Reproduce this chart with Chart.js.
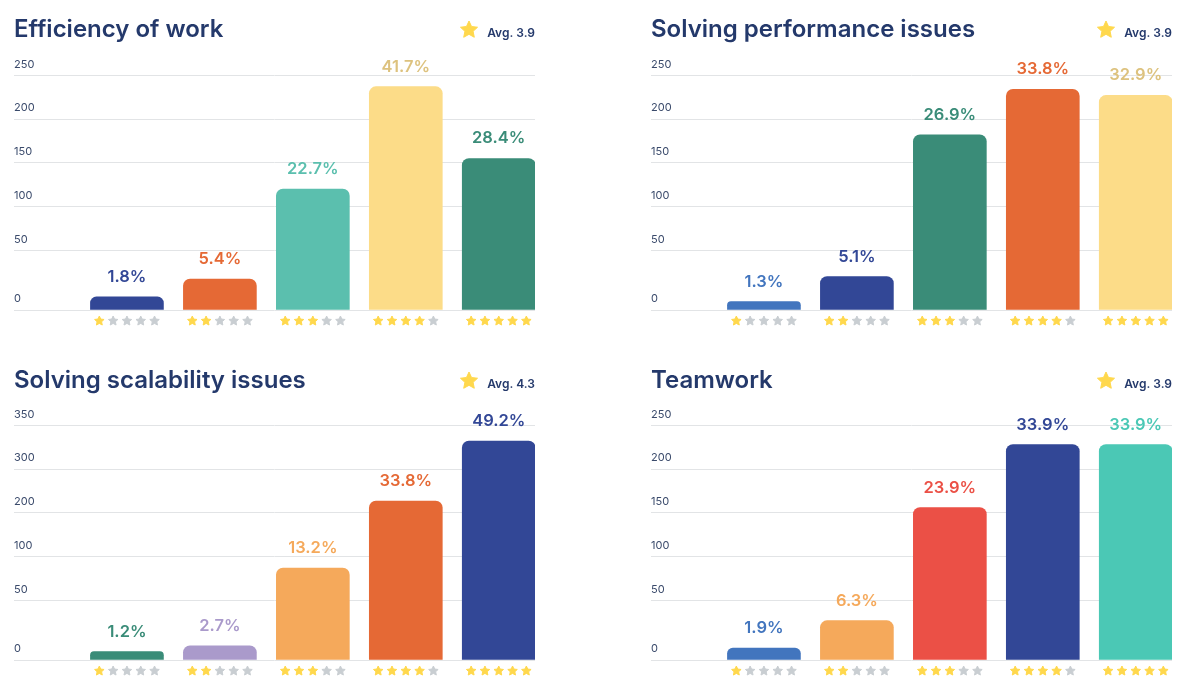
<!DOCTYPE html>
<html>
<head>
<meta charset="utf-8">
<title>Survey ratings</title>
<script src="https://cdn.jsdelivr.net/npm/chart.js@4"></script>
<style>
    html, body { margin: 0; background: #fff; }
    canvas { position: absolute; }
</style>
</head>
<body>
<canvas id="efficiencyChart" style="left:14px;top:0" width="521" height="340"></canvas>
<canvas id="performanceChart" style="left:651px;top:0" width="521" height="340"></canvas>
<canvas id="scalabilityChart" style="left:14px;top:351px" width="521" height="340"></canvas>
<canvas id="teamworkChart" style="left:651px;top:351px" width="521" height="340"></canvas>
<script>
// Star ratings on the x axis
const ratings = [1, 2, 3, 4, 5];

// Efficiency of work
const efficiencyValues = [11, 26, 120, 237, 155];
const efficiencyLabels = ['1.8%', '5.4%', '22.7%', '41.7%', '28.4%'];
const efficiencyTicks = [0, 50, 100, 150, 200, 250];
const efficiencyColors = ['#324796', '#E56935', '#5BBFAE', '#FCDC88', '#3A8C78'];
const efficiencyLabelColors = ['#324796', '#E56935', '#5BBFAE', '#DDC27E', '#3A8C78'];

// Solving performance issues
const performanceValues = [7, 28, 182, 234, 227];
const performanceLabels = ['1.3%', '5.1%', '26.9%', '33.8%', '32.9%'];
const performanceTicks = [0, 50, 100, 150, 200, 250];
const performanceColors = ['#4275BE', '#324796', '#3A8C78', '#E56935', '#FCDC88'];
const performanceLabelColors = ['#4275BE', '#324796', '#3A8C78', '#E56935', '#DDC27E'];

// Solving scalability issues
const scalabilityValues = [7, 12, 87, 227, 332];
const scalabilityLabels = ['1.2%', '2.7%', '13.2%', '33.8%', '49.2%'];
const scalabilityTicks = [0, 50, 100, 200, 300, 350];
const scalabilityColors = ['#3A8C78', '#AA9ACB', '#F5A95B', '#E56935', '#324796'];
const scalabilityLabelColors = ['#3A8C78', '#AA9ACB', '#F5A95B', '#E56935', '#324796'];

// Teamwork
const teamworkValues = [10, 33, 156, 228, 228];
const teamworkLabels = ['1.9%', '6.3%', '23.9%', '33.9%', '33.9%'];
const teamworkTicks = [0, 50, 100, 150, 200, 250];
const teamworkColors = ['#4275BE', '#F5A95B', '#EB5046', '#324796', '#4BC8B5'];
const teamworkLabelColors = ['#4275BE', '#F5A95B', '#EB5046', '#324796', '#4BC8B5'];

const fontName = 'Inter, "Noto Sans", sans-serif';
const titleColor = '#24396B';

// The source axis is not linear: ticks are evenly spaced whatever their value
// and the first step (0 to the next tick) is a bit taller than the others
class StepAxis extends Chart.LinearScale {
    segments() {
        const knots = this.options.knots;
        const total = this.options.firstStep + knots.length - 2;
        return { knots, total };
    }
    getPixelForValue(value) {
        const { knots, total } = this.segments();
        const first = this.options.firstStep;
        let pos = 0;
        for (let i = 0; i < knots.length - 1; i++) {
            const weight = i === 0 ? first : 1;
            if (value <= knots[i + 1] || i === knots.length - 2) {
                pos += weight * (value - knots[i]) / (knots[i + 1] - knots[i]);
                break;
            }
            pos += weight;
        }
        return this.getPixelForDecimal(pos / total);
    }
}
StepAxis.id = 'stepAxis';
StepAxis.defaults = Chart.LinearScale.defaults;
Chart.register(StepAxis);

function drawStar(ctx, cx, cy, radius, color) {
    ctx.beginPath();
    for (let i = 0; i < 10; i++) {
        const r = i % 2 === 0 ? radius : radius * 0.48;
        const angle = -Math.PI / 2 + i * Math.PI / 5;
        const x = cx + r * Math.cos(angle);
        const y = cy + r * Math.sin(angle);
        if (i === 0) ctx.moveTo(x, y); else ctx.lineTo(x, y);
    }
    ctx.closePath();
    ctx.fillStyle = color;
    ctx.strokeStyle = color;
    ctx.lineWidth = 1;
    ctx.lineJoin = 'round';
    ctx.fill();
    ctx.stroke();
}

// Percent labels, star rows and the average in the header
const decorations = {
    id: 'decorations',
    afterDatasetsDraw(chart, args, opts) {
        const ctx = chart.ctx;
        const bars = chart.getDatasetMeta(0).data;
        const xScale = chart.scales.x;
        ctx.save();

        ctx.textAlign = 'center';
        ctx.textBaseline = 'middle';
        ctx.font = '600 16.5px ' + fontName;
        bars.forEach((bar, i) => {
            ctx.fillStyle = opts.labelColors[i];
            ctx.fillText(opts.labels[i], bar.x, bar.y - 20);
        });

        ratings.forEach(rating => {
            const center = xScale.getPixelForValue(rating);
            for (let s = 0; s < 5; s++) {
                const color = s < rating ? '#FFD84D' : '#C9CED2';
                drawStar(ctx, center + (s - 2) * 13.8, chart.chartArea.bottom + 11, 5, color);
            }
        });

        const right = chart.chartArea.right;
        drawStar(ctx, right - 66, 30, 9, '#FFD84D');
        ctx.textAlign = 'right';
        ctx.font = '600 12px ' + fontName;
        ctx.fillStyle = titleColor;
        ctx.fillText(opts.average, right, 33);
        ctx.restore();
    }
};

function makeChart(canvasId, title, average, values, labels, ticks, colors, labelColors, plotShift) {
    return new Chart(document.getElementById(canvasId), {
        type: 'bar',
        data: {
            datasets: [{
                data: ratings.map((r, i) => ({ x: r, y: values[i] })),
                backgroundColor: colors,
                barThickness: 73,
                borderRadius: { topLeft: 7, topRight: 7, bottomLeft: 0, bottomRight: 0 },
                borderSkipped: false
            }]
        },
        options: {
            responsive: false,
            animation: false,
            devicePixelRatio: 1,
            layout: { padding: { top: 0, bottom: 30 + plotShift, left: 0, right: 0 } },
            scales: {
                x: { type: 'linear', display: false, offset: false, min: -0.215, max: 5.39 },
                y: {
                    type: 'stepAxis',
                    min: ticks[0],
                    max: ticks[ticks.length - 1],
                    knots: ticks,
                    firstStep: 1.36,
                    afterBuildTicks: scale => { scale.ticks = ticks.map(v => ({ value: v })); },
                    afterFit: scale => { scale.paddingTop = 0; scale.paddingBottom = 0; },
                    border: { display: false },
                    grid: { color: '#E2E4E6', drawTicks: false },
                    ticks: {
                        mirror: true,
                        padding: 0,
                        labelOffset: -11,
                        autoSkip: false,
                        color: '#3A4A6B',
                        font: { family: fontName, size: 11 }
                    }
                }
            },
            plugins: {
                legend: { display: false },
                tooltip: { enabled: false },
                title: {
                    display: true,
                    text: title,
                    align: 'start',
                    color: titleColor,
                    font: { family: fontName, size: 24, weight: '600' },
                    padding: { top: 15, bottom: 31.5 - plotShift }
                },
                decorations: { labels, labelColors, average }
            }
        },
        plugins: [decorations]
    });
}

makeChart('efficiencyChart', 'Efficiency of work', 'Avg. 3.9', efficiencyValues, efficiencyLabels, efficiencyTicks, efficiencyColors, efficiencyLabelColors, 0);
makeChart('performanceChart', 'Solving performance issues', 'Avg. 3.9', performanceValues, performanceLabels, performanceTicks, performanceColors, performanceLabelColors, 0);
makeChart('scalabilityChart', 'Solving scalability issues', 'Avg. 4.3', scalabilityValues, scalabilityLabels, scalabilityTicks, scalabilityColors, scalabilityLabelColors, 1);
makeChart('teamworkChart', 'Teamwork', 'Avg. 3.9', teamworkValues, teamworkLabels, teamworkTicks, teamworkColors, teamworkLabelColors, 1);
</script>
</body>
</html>
